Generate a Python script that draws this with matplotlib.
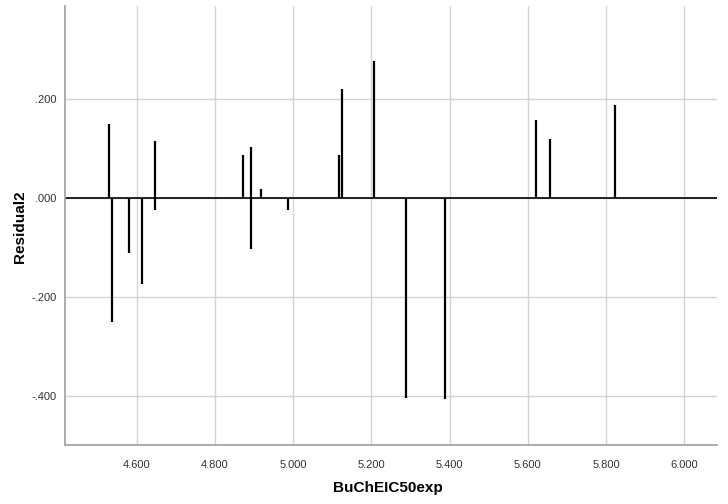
import matplotlib
matplotlib.use("Agg")
import matplotlib.pyplot as plt

# Data (x = BuChEIC50exp, y = Residual2)
x_vals = [4.530, 4.536, 4.580, 4.613, 4.646, 4.646, 4.873, 4.892, 4.892,
          4.918, 4.988, 5.118, 5.126, 5.207, 5.288, 5.387, 5.620, 5.657, 5.823]
residuals = [0.150, -0.249, -0.111, -0.173, 0.116, -0.024, 0.087, 0.103, -0.102,
             0.018, -0.024, 0.088, 0.220, 0.278, -0.403, -0.405, 0.158, 0.119, 0.188]

x_ticks = [4.6, 4.8, 5.0, 5.2, 5.4, 5.6, 5.8, 6.0]
x_ticklabels = ["4.600", "4.800", "5.000", "5.200", "5.400", "5.600", "5.800", "6.000"]
y_ticks = [0.2, 0.0, -0.2, -0.4]
y_ticklabels = [".200", ".000", "-.200", "-.400"]

plt.rcParams['font.family'] = ['Liberation Sans', 'DejaVu Sans']

fig = plt.figure(figsize=(7.28, 5.04), dpi=100)
ax = fig.add_axes([0.0893, 0.117, 0.8952, 0.871])

ax.set_xlim(4.4167, 6.083)
ax.set_ylim(-0.498, 0.388)

ax.set_xticks(x_ticks)
ax.set_xticklabels(x_ticklabels)
ax.set_yticks(y_ticks)
ax.set_yticklabels(y_ticklabels)

ax.grid(True, color='#d4d4d4', linewidth=1.0)
ax.set_axisbelow(True)

ax.axhline(0, color='black', linewidth=1.2, zorder=2)
ax.vlines(x_vals, 0, residuals, colors='black', linewidth=1.6, zorder=3)

for s in ['top', 'right']:
    ax.spines[s].set_visible(False)
for s in ['left', 'bottom']:
    ax.spines[s].set_color('#a6a6a6')
    ax.spines[s].set_linewidth(1.3)

ax.tick_params(axis='both', length=0, labelsize=8, labelcolor='#333333')
ax.tick_params(axis='x', pad=11)
ax.tick_params(axis='y', pad=6)

ax.set_xlabel("BuChEIC50exp", fontsize=11, fontweight='bold')
ax.set_ylabel("Residual2", fontsize=11, fontweight='bold', va='center')
ax.xaxis.set_label_coords(0.4956, -0.082)
ax.yaxis.set_label_coords(-0.069, 0.497)

fig.savefig("out.png", dpi=100)
